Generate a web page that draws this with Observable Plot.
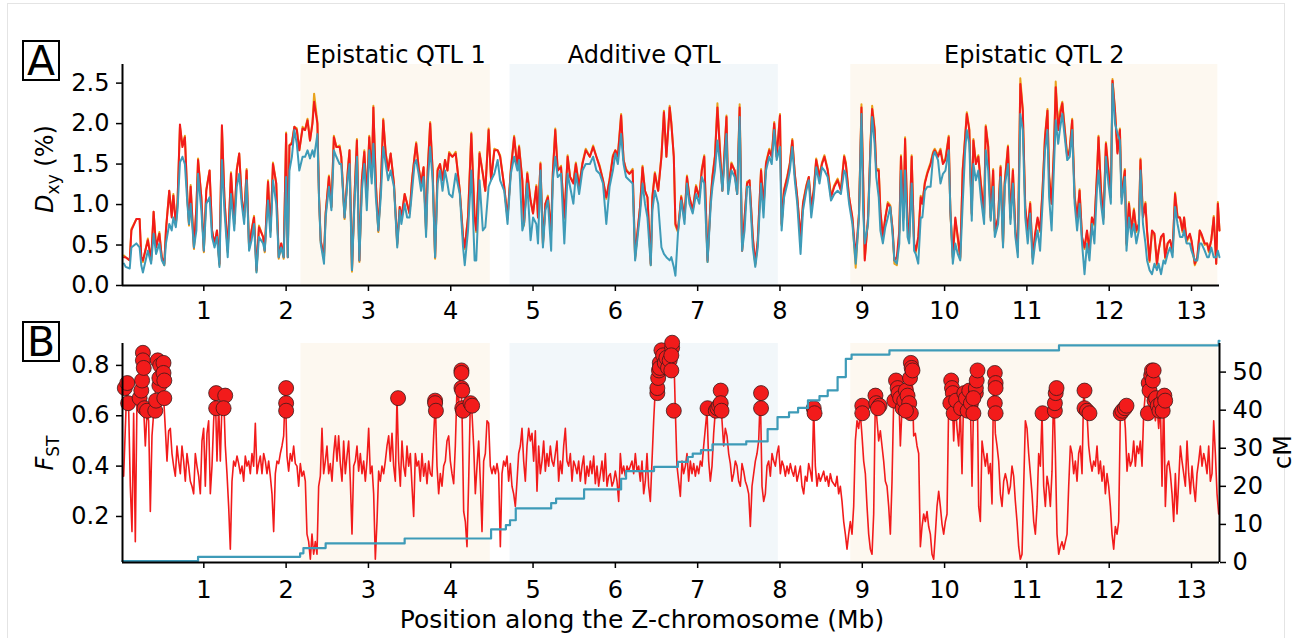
<!DOCTYPE html>
<html><head><meta charset="utf-8">
<script src="https://cdn.jsdelivr.net/npm/d3@7"></script>
<script src="https://cdn.jsdelivr.net/npm/@observablehq/plot@0.6"></script>
<style>
body{margin:0;background:#fff;font-family:"DejaVu Sans",sans-serif;color:#000;}
#fig{position:relative;width:1307px;height:638px;overflow:hidden;background:#fff;}
#frame{position:absolute;left:7px;top:3px;width:1276px;height:700px;border:1px solid #e4e4e4;}
.letter{position:absolute;left:22px;width:34px;height:37px;border:2px solid #000;font-size:41px;line-height:38px;text-align:center;}
.ylab{position:absolute;font-size:24px;line-height:28px;white-space:nowrap;transform:translate(-50%,-50%) rotate(-90deg);}
.sub{font-size:17px;position:relative;top:6px;}
#xlab{position:absolute;left:642px;top:620px;font-size:25px;line-height:28px;white-space:nowrap;transform:translate(-50%,-50%);}
.plot{position:absolute;left:0;}
</style></head>
<body><div id="fig">
<div id="frame"></div>
<div id="pa" class="plot" style="top:0"></div>
<div id="pb" class="plot" style="top:320px"></div>
<div class="letter" style="top:40px">A</div>
<div class="letter" style="top:321px">B</div>
<div class="ylab" style="left:46px;top:169px"><i>D</i><span class="sub">xy</span> (%)</div>
<div class="ylab" style="left:46px;top:453px"><i>F</i><span class="sub">ST</span></div>
<div class="ylab" style="left:1283px;top:452px">cM</div>
<div id="xlab">Position along the Z-chromosome (Mb)</div>
</div>
<script>
// ---------- data ----------
const regionNames = ["Epistatic QTL 1", "Additive QTL", "Epistatic QTL 2"];
const regionStart = [2.18, 4.72, 8.86];
const regionEnd = [4.48, 7.98, 13.32];
const regionKind = ["epistatic", "additive", "epistatic"];

const xTicks = [1,2,3,4,5,6,7,8,9,10,11,12,13];
const dxyTicks = [0, 0.5, 1.0, 1.5, 2.0, 2.5];
const fstTicks = [0.2, 0.4, 0.6, 0.8];
const cmTicks = [0, 10, 20, 30, 40, 50];

const dxyPos = [
0.03,0.05,0.10,0.12,0.18,0.22,0.24,0.26,0.32,0.36,0.39,0.42,0.46,0.49,0.52,0.54,0.58,0.61,0.63,0.66,
0.68,0.71,0.74,0.77,0.80,0.82,0.84,0.88,0.91,0.93,0.97,1.00,1.03,1.07,1.10,1.13,1.16,1.19,1.22,1.25,
1.29,1.33,1.37,1.40,1.43,1.46,1.49,1.52,1.55,1.58,1.61,1.64,1.67,1.72,1.74,1.78,1.81,1.84,1.88,1.91,
1.94,1.97,2.00,2.02,2.04,2.07,2.10,2.13,2.16,2.20,2.23,2.26,2.29,2.32,2.34,2.38,2.40,2.42,2.46,2.48,
2.52,2.55,2.58,2.61,2.65,2.67,2.71,2.75,2.77,2.80,2.83,2.86,2.89,2.92,2.95,2.98,3.01,3.04,3.06,3.09,
3.12,3.15,3.18,3.21,3.24,3.27,3.31,3.35,3.38,3.40,3.44,3.47,3.50,3.53,3.56,3.58,3.61,3.64,3.67,3.70,
3.72,3.75,3.78,3.81,3.84,3.87,3.90,3.93,3.96,
3.98,4.02,4.06,4.11,4.15,4.17,4.21,4.25,4.29,4.31,4.35,4.39,4.42,4.46,4.49,4.53,4.57,4.60,4.65,4.69,
4.73,4.77,4.81,4.83,4.87,4.89,4.93,4.97,5.00,5.04,5.06,5.09,5.12,5.15,5.18,5.22,5.24,5.27,5.30,5.34,
5.38,5.42,5.45,5.49,5.52,5.56,5.60,5.64,5.69,5.73,5.77,5.81,5.85,5.89,5.93,5.97,6.00,6.03,6.07,6.10,
6.13,6.17,6.21,6.24,6.27,6.30,6.33,6.36,6.39,6.43,6.45,6.48,6.52,6.56,6.59,6.62,6.66,6.68,6.71,6.73,
6.76,6.80,6.84,6.87,6.90,6.94,6.98,7.02,7.05,7.08,7.12,7.16,7.18,7.21,7.24,7.28,7.30,7.35,7.37,7.41,
7.45,7.48,7.51,7.54,7.57,7.60,7.63,7.67,7.70,7.73,7.77,7.80,7.83,7.87,7.90,7.93,7.96,8.00,8.02,8.05,
8.09,8.12,8.15,8.18,8.21,8.25,8.28,8.32,8.35,8.38,8.41,8.44,8.48,8.51,8.54,8.58,8.62,8.66,8.70,8.74,
8.78,8.80,8.84,8.88,8.92,8.96,
8.99,9.01,9.03,9.07,9.10,9.12,9.15,9.17,9.20,9.22,9.25,9.28,9.31,9.34,9.37,9.39,9.42,9.45,9.47,9.50,
9.52,9.55,9.57,9.60,9.63,9.65,9.68,9.71,9.73,9.76,9.79,9.83,9.86,9.88,9.92,9.95,9.98,10.01,10.05,10.07,
10.10,10.13,10.16,10.19,10.22,10.25,10.27,10.30,10.33,10.35,10.38,10.41,10.44,10.48,10.50,10.53,10.56,10.59,10.61,10.65,
10.68,10.71,10.73,10.77,10.80,10.83,10.86,10.89,10.92,10.95,10.98,11.01,11.04,11.07,11.10,11.13,11.16,11.19,11.22,11.25,
11.27,11.30,11.33,11.35,11.38,11.40,11.43,11.46,11.49,11.52,11.55,11.58,11.61,11.64,11.67,11.70,11.73,11.76,11.79,11.82,
11.85,11.87,11.90,11.93,11.96,11.99,12.02,12.04,12.07,12.10,12.13,12.15,12.19,12.21,12.24,12.27,12.30,12.33,12.36,12.38,
12.41,12.44,12.46,12.49,12.52,12.55,12.58,12.60,12.63,12.66,12.68,12.71,12.74,12.77,12.80,12.83,12.86,12.89,12.91,12.94,
12.98,13.00,13.04,13.07,13.10,13.12,13.16,13.19,13.21,13.24,13.27,13.30,13.32,13.34];

const dxyRed = [
0.35,0.35,0.31,0.68,0.82,0.82,0.35,0.31,0.56,0.31,0.91,0.47,0.64,0.35,0.27,0.68,1.17,0.84,1.11,0.76,
1.01,1.99,1.71,1.83,1.09,0.76,1.22,0.47,0.97,1.55,1.09,0.43,1.17,1.42,0.68,0.52,0.68,0.27,1.98,1.09,
0.43,1.38,0.76,1.42,1.63,1.09,0.84,1.42,0.47,0.68,0.84,0.19,0.72,0.60,0.43,1.28,0.68,1.50,1.26,0.35,
0.52,0.35,1.87,0.35,1.73,1.75,1.96,1.92,1.67,1.94,1.92,2.04,1.79,2.00,2.27,2.00,1.09,0.56,0.35,0.89,
1.34,0.97,1.83,1.71,1.71,1.59,0.84,1.42,1.67,0.19,1.09,1.79,0.31,1.30,1.65,1.09,1.83,1.34,2.20,1.26,
0.68,1.22,2.04,1.63,1.42,1.63,1.26,0.52,0.97,0.84,1.13,1.01,0.89,1.30,1.59,1.75,1.46,1.26,1.46,0.68,
1.42,2.00,1.42,0.35,1.42,1.50,1.30,1.55,1.42,
1.63,1.59,1.63,1.17,0.60,0.47,0.84,1.87,0.84,0.68,1.63,1.38,1.17,1.92,1.30,1.67,1.67,1.59,1.22,0.84,
1.42,1.83,1.46,1.71,1.30,0.76,1.38,1.05,0.89,1.22,0.84,1.50,0.52,1.01,1.09,0.68,1.38,1.92,1.42,1.46,
0.84,1.59,1.34,1.26,1.50,1.22,1.50,1.67,1.59,1.71,1.59,1.46,1.30,1.09,1.30,1.59,1.67,1.59,2.10,1.55,
1.42,1.38,1.42,0.35,0.68,0.97,1.46,1.17,1.09,0.27,1.09,1.38,1.17,1.59,2.14,1.59,2.20,2.00,1.59,0.76,
0.68,1.09,0.84,1.34,1.09,0.93,1.22,1.09,1.42,1.59,0.31,1.09,1.34,1.59,2.20,1.50,1.17,2.08,1.17,1.50,
1.42,1.13,2.20,0.43,0.84,1.26,1.30,0.60,0.27,0.56,1.42,0.97,1.50,1.67,1.59,2.00,1.59,2.10,0.76,1.17,
1.34,1.50,1.79,1.38,1.09,0.60,1.01,1.22,1.34,0.97,1.17,1.55,1.34,1.50,1.59,1.42,1.09,1.22,1.30,1.17,
1.59,1.50,1.09,0.84,0.35,0.89,
2.20,1.34,0.31,0.84,1.75,2.18,1.92,1.42,1.42,0.93,0.60,0.84,1.01,0.97,0.68,0.31,0.35,0.68,1.59,0.84,
1.81,0.76,0.60,1.59,0.52,0.43,0.60,1.09,1.01,1.26,1.38,1.50,1.63,1.67,1.59,1.67,1.50,1.55,1.83,0.93,
0.35,0.84,0.60,0.35,1.42,1.83,2.12,1.92,0.89,1.79,1.50,1.59,1.26,0.89,1.96,1.71,0.84,1.42,0.68,0.84,
1.46,0.52,1.26,1.71,0.84,1.42,0.68,0.43,2.49,2.16,0.97,0.68,1.01,0.35,0.64,0.84,0.68,1.17,1.83,2.16,
1.34,1.01,1.71,2.45,1.92,2.08,2.25,1.92,1.59,1.67,2.04,1.09,0.84,1.17,0.60,0.47,0.68,0.43,0.84,0.76,
1.34,1.83,1.17,0.84,1.75,1.42,1.09,2.53,2.16,1.63,1.92,1.09,1.42,0.52,1.01,0.68,0.93,0.68,0.76,1.55,
0.84,1.01,0.68,0.31,0.68,0.64,0.27,0.43,0.60,0.64,0.35,0.52,0.56,0.43,1.13,0.84,0.84,0.68,0.84,0.56,
0.64,0.56,0.27,0.35,0.68,0.64,0.52,0.52,0.43,0.56,0.84,0.27,1.01,0.68];

const dxyOrange = [
0.37,0.35,0.31,0.70,0.82,0.82,0.35,0.29,0.58,0.31,0.91,0.47,0.66,0.33,0.25,0.70,1.17,0.86,1.13,0.74,
1.03,1.96,1.73,1.85,1.09,0.74,1.24,0.45,0.97,1.57,1.09,0.41,1.19,1.42,0.68,0.50,0.68,0.25,1.96,1.09,
0.41,1.40,0.76,1.44,1.63,1.09,0.84,1.44,0.45,0.68,0.86,0.17,0.74,0.60,0.41,1.30,0.66,1.52,1.26,0.33,
0.52,0.33,1.89,0.35,1.73,1.77,1.96,1.94,1.67,1.96,1.92,2.06,1.79,2.02,2.37,2.02,1.09,0.54,0.33,0.89,
1.36,0.97,1.85,1.71,1.73,1.59,0.82,1.44,1.67,0.17,1.09,1.81,0.29,1.30,1.67,1.09,1.85,1.34,2.22,1.26,
0.66,1.22,2.06,1.63,1.44,1.63,1.26,0.50,0.97,0.82,1.13,1.01,0.89,1.32,1.59,1.77,1.46,1.28,1.46,0.66,
1.44,2.02,1.42,0.33,1.44,1.50,1.32,1.55,1.42,
1.65,1.59,1.65,1.17,0.58,0.45,0.86,1.89,0.84,0.66,1.65,1.38,1.17,1.94,1.30,1.69,1.67,1.61,1.22,0.82,
1.44,1.85,1.46,1.73,1.30,0.74,1.40,1.05,0.89,1.24,0.84,1.52,0.50,1.01,1.11,0.66,1.40,1.94,1.42,1.48,
0.82,1.61,1.34,1.28,1.52,1.22,1.52,1.69,1.59,1.73,1.59,1.48,1.30,1.07,1.32,1.61,1.67,1.61,2.12,1.55,
1.44,1.38,1.44,0.33,0.66,0.97,1.48,1.17,1.09,0.25,1.11,1.40,1.17,1.61,2.16,1.59,2.22,2.02,1.59,0.74,
0.66,1.11,0.82,1.36,1.09,0.93,1.24,1.09,1.44,1.61,0.29,1.11,1.36,1.61,2.25,1.52,1.17,2.10,1.17,1.52,
1.42,1.13,2.24,0.43,0.82,1.28,1.30,0.58,0.25,0.54,1.44,0.95,1.52,1.69,1.61,2.02,1.59,2.12,0.74,1.19,
1.36,1.52,1.81,1.38,1.09,0.58,1.03,1.24,1.34,0.95,1.19,1.57,1.36,1.52,1.61,1.44,1.11,1.24,1.32,1.19,
1.61,1.52,1.09,0.82,0.22,0.89,
2.24,1.36,0.33,0.82,1.77,2.22,1.94,1.44,1.44,0.91,0.58,0.84,1.03,0.99,0.66,0.27,0.25,0.66,1.61,0.82,
1.83,0.74,0.58,1.61,0.50,0.41,0.58,1.11,1.01,1.28,1.40,1.52,1.65,1.69,1.61,1.69,1.52,1.57,1.85,0.91,
0.33,0.82,0.58,0.33,1.44,1.85,2.14,1.94,0.87,1.81,1.52,1.61,1.28,0.87,1.98,1.73,0.82,1.44,0.66,0.82,
1.48,0.50,1.28,1.73,0.82,1.44,0.66,0.41,2.56,2.18,0.95,0.66,1.03,0.33,0.62,0.82,0.66,1.19,1.85,2.18,
1.36,1.01,1.73,2.52,1.94,2.15,2.27,1.94,1.61,1.69,2.06,1.11,0.82,1.19,0.58,0.45,0.66,0.41,0.84,0.74,
1.36,1.85,1.19,0.82,1.77,1.44,1.11,2.55,2.18,1.65,1.94,1.11,1.44,0.50,1.03,0.66,0.95,0.66,0.76,1.57,
0.86,1.03,0.66,0.29,0.66,0.62,0.25,0.43,0.60,0.62,0.33,0.52,0.56,0.41,1.15,0.86,0.84,0.66,0.84,0.54,
0.62,0.54,0.25,0.33,0.68,0.62,0.50,0.52,0.41,0.56,0.86,0.27,1.03,0.68];

const dxyBlue = [
0.27,0.23,0.21,0.47,0.52,0.47,0.25,0.16,0.43,0.27,0.64,0.39,0.52,0.31,0.25,0.52,0.76,0.68,0.84,0.72,
0.93,1.52,1.59,1.50,1.01,0.76,1.01,0.47,0.68,1.38,0.93,0.43,1.01,1.09,0.60,0.47,0.60,0.23,1.55,0.93,
0.35,1.13,0.68,1.22,1.38,1.01,0.76,1.30,0.43,0.56,0.76,0.16,0.60,0.52,0.43,1.05,0.60,1.30,1.01,0.35,
0.47,0.35,1.34,0.35,1.42,1.59,1.92,1.75,1.42,1.59,1.59,1.67,1.57,1.67,1.59,1.87,1.05,0.52,0.27,0.84,
1.22,0.93,1.67,1.59,1.50,1.50,0.84,1.34,1.50,0.19,1.01,1.59,0.31,1.17,1.50,0.93,1.67,1.26,1.75,1.09,
0.68,1.09,1.71,1.50,1.30,1.42,1.22,0.47,0.93,0.76,1.01,0.84,0.84,1.17,1.50,1.55,1.38,1.17,1.34,0.60,
1.26,1.71,1.30,0.35,1.26,1.42,1.17,1.42,1.26,
1.13,1.09,1.38,1.13,0.47,0.25,0.68,1.42,0.31,0.31,1.30,0.68,0.72,1.22,1.30,1.38,1.55,1.30,1.17,0.76,
1.38,1.59,1.42,1.55,0.68,0.76,1.26,0.56,0.84,0.76,0.52,1.42,0.47,0.93,1.05,0.43,1.30,1.59,1.34,1.38,
0.52,1.38,1.22,1.01,1.38,1.13,1.42,1.50,1.50,1.59,1.42,1.38,1.26,0.76,1.22,1.42,1.63,1.50,1.87,1.50,
1.34,1.30,1.26,0.31,0.60,0.89,1.26,1.01,0.84,0.25,0.93,1.17,1.01,0.47,0.39,0.35,0.31,0.35,0.23,0.12,
0.64,1.05,0.76,1.26,1.01,0.89,1.13,1.01,1.34,1.26,0.29,1.01,1.22,1.42,1.79,1.42,1.17,1.87,1.13,1.42,
1.34,1.13,2.08,0.43,0.68,1.22,1.22,0.47,0.23,0.47,1.26,0.84,1.42,1.59,1.50,1.92,1.55,1.71,0.68,1.09,
1.26,1.42,1.71,1.30,1.01,0.39,0.93,1.17,1.30,0.84,1.09,1.46,1.26,1.46,1.42,1.34,1.05,1.13,1.17,1.13,
1.42,1.38,1.01,0.76,0.27,0.84,
2.12,0.93,0.52,0.76,1.67,2.08,1.75,1.34,1.09,0.68,0.52,0.72,0.84,0.97,0.60,0.31,0.27,0.52,1.42,0.68,
1.42,0.60,0.52,1.26,0.43,0.39,0.27,0.84,0.84,1.17,1.22,1.22,1.59,1.65,1.55,1.26,1.38,1.42,1.67,0.93,
0.27,0.52,0.39,0.31,1.01,1.67,1.92,1.75,0.80,1.50,1.30,1.42,1.09,0.76,1.67,1.42,0.80,1.22,0.60,0.76,
1.34,0.47,1.22,1.50,0.76,1.26,0.60,0.35,2.12,1.92,0.84,0.52,0.89,0.27,0.52,0.68,0.43,1.01,1.67,1.92,
1.09,0.68,1.50,2.04,1.75,1.92,2.12,1.83,1.55,1.59,1.92,1.01,0.68,1.01,0.52,0.14,0.52,0.31,0.76,0.52,
1.17,1.42,1.01,0.76,1.59,1.26,1.01,2.49,2.00,1.88,1.79,1.01,1.34,0.43,0.84,0.60,0.76,0.52,0.68,1.42,
0.76,0.52,0.31,0.19,0.14,0.27,0.19,0.27,0.14,0.31,0.27,0.39,0.47,0.35,0.97,0.76,0.60,0.60,0.68,0.52,
0.52,0.43,0.31,0.31,0.52,0.52,0.43,0.35,0.35,0.47,0.35,0.35,0.43,0.35];

// F_ST sampled on a regular grid along the chromosome
const fstStart = 0.026, fstStep = 0.02025;
const fstValues = [
0.36,0.55,0.73,0.63,0.32,0.14,0.61,0.10,0.67,0.71,0.70,0.85,0.63,0.48,0.61,0.58,0.22,0.52,0.61,0.69,
0.82,0.74,0.78,0.81,0.67,0.55,0.42,0.54,0.55,0.45,0.40,0.36,0.48,0.42,0.37,0.48,0.42,0.34,0.45,0.40,
0.34,0.32,0.29,0.45,0.40,0.36,0.29,0.50,0.55,0.32,0.53,0.58,0.29,0.40,0.58,0.69,0.42,0.65,0.42,0.65,
0.68,0.48,0.37,0.24,0.07,0.34,0.42,0.40,0.44,0.41,0.37,0.40,0.34,0.44,0.40,0.42,0.37,0.45,0.40,0.57,
0.37,0.41,0.44,0.37,0.45,0.42,0.37,0.42,0.36,0.29,0.14,0.37,0.42,0.41,0.45,0.48,0.52,0.71,0.44,0.38,
0.45,0.42,0.48,0.41,0.40,0.32,0.41,0.36,0.38,0.34,0.13,0.10,0.03,0.13,0.05,0.10,0.05,0.32,0.36,0.55,
0.37,0.42,0.48,0.37,0.41,0.34,0.45,0.52,0.42,0.52,0.41,0.34,0.50,0.37,0.44,0.50,0.34,0.13,0.40,0.42,
0.48,0.38,0.45,0.37,0.42,0.34,0.42,0.55,0.37,0.40,0.29,0.03,0.18,0.38,0.34,0.40,0.37,0.42,0.48,0.52,
0.42,0.53,0.40,0.34,0.67,0.42,0.32,0.50,0.40,0.36,0.48,0.40,0.45,0.32,0.20,0.45,0.40,0.42,0.34,0.45,
0.36,0.41,0.33,0.42,0.37,0.36,0.52,0.66,0.40,0.29,0.37,0.32,0.40,0.42,0.50,0.52,
0.42,0.37,0.33,0.48,0.71,0.65,0.78,0.62,0.22,0.18,0.08,0.34,0.65,0.61,0.48,0.29,0.40,0.50,0.34,0.14,
0.42,0.45,0.58,0.57,0.40,0.37,0.40,0.37,0.41,0.37,0.08,0.37,0.42,0.40,0.44,0.34,0.41,0.32,0.29,0.24,
0.34,0.45,0.48,0.55,0.42,0.34,0.48,0.55,0.50,0.53,0.42,0.54,0.30,0.48,0.37,0.42,0.50,0.38,0.45,0.40,
0.48,0.42,0.40,0.45,0.50,0.34,0.42,0.37,0.48,0.55,0.42,0.40,0.45,0.34,0.42,0.40,0.37,0.42,0.34,0.40,
0.44,0.33,0.40,0.36,0.42,0.37,0.44,0.33,0.40,0.32,0.37,0.42,0.34,0.45,0.32,0.36,0.37,0.32,0.34,0.38,
0.34,0.26,0.45,0.37,0.40,0.36,0.40,0.38,0.40,0.42,0.37,0.45,0.38,0.40,0.34,0.42,0.29,0.34,0.45,0.32,
0.26,0.42,0.58,0.71,0.77,0.81,0.85,0.82,0.83,0.81,0.85,0.82,0.86,0.89,0.87,0.62,0.40,0.34,0.28,0.42,
0.37,0.40,0.45,0.34,0.42,0.37,0.41,0.36,0.40,0.37,0.42,0.40,0.48,0.55,0.62,0.42,0.34,0.40,0.53,0.62,
0.63,0.66,0.70,0.58,0.48,0.55,0.52,0.45,0.41,0.34,0.37,0.42,0.40,0.34,0.32,0.41,0.38,0.34,0.32,0.29,
0.16,0.32,0.37,0.42,0.45,0.50,0.69,0.32,0.26,0.29,0.40,0.42,0.36,0.45,0.42,0.40,0.45,0.48,0.37,0.42,
0.40,0.36,0.40,0.37,0.41,0.38,0.36,0.40,0.34,0.37,0.40,0.32,0.29,0.36,0.34,0.41,0.38,0.34,0.63,0.40,
0.32,0.37,0.34,0.36,0.38,0.34,0.36,0.32,0.37,0.34,0.33,0.32,0.36,0.29,0.32,0.26,0.18,0.13,0.07,0.13,
0.18,0.13,0.24,0.50,0.58,0.55,
0.61,0.52,0.42,0.37,0.24,0.13,0.07,0.05,0.21,0.67,0.58,0.50,0.54,0.48,0.42,0.34,0.32,0.24,0.13,0.34,
0.66,0.74,0.71,0.70,0.48,0.63,0.66,0.70,0.68,0.65,0.81,0.78,0.52,0.53,0.48,0.45,0.08,0.16,0.21,0.18,
0.22,0.16,0.13,0.05,0.03,0.13,0.24,0.30,0.24,0.17,0.13,0.18,0.21,0.65,0.74,0.69,0.50,0.66,0.55,0.48,
0.63,0.37,0.69,0.67,0.62,0.70,0.65,0.32,0.67,0.71,0.78,0.24,0.18,0.50,0.45,0.40,0.45,0.37,0.41,0.25,
0.77,0.53,0.48,0.42,0.29,0.24,0.34,0.37,0.34,0.29,0.32,0.40,0.36,0.26,0.18,0.08,0.03,0.05,0.32,0.58,
0.55,0.45,0.37,0.29,0.18,0.13,0.24,0.45,0.40,0.61,0.32,0.24,0.36,0.32,0.24,0.38,0.71,0.45,0.13,0.05,
0.08,0.10,0.07,0.10,0.13,0.32,0.48,0.45,0.37,0.42,0.34,0.45,0.48,0.37,0.70,0.63,0.61,0.48,0.42,0.38,
0.42,0.40,0.48,0.37,0.42,0.34,0.40,0.29,0.37,0.32,0.24,0.13,0.07,0.16,0.13,0.18,0.61,0.62,0.64,0.55,
0.38,0.45,0.40,0.42,0.50,0.40,0.48,0.45,0.50,0.40,0.61,0.69,0.74,0.77,0.79,0.77,0.65,0.58,0.64,0.55,
0.65,0.32,0.68,0.24,0.40,0.42,0.37,0.29,0.18,0.37,0.21,0.34,0.48,0.42,0.37,0.32,0.50,0.37,0.29,0.40,
0.32,0.26,0.37,0.42,0.48,0.40,0.45,0.42,0.37,0.48,0.34,0.37,0.58,0.45,0.29,0.21];

// F_ST outlier windows (red circles)
const outlierPos = [
0.04,0.07,0.08,0.22,0.24,0.25,0.26,0.26,0.27,0.28,0.31,0.41,0.42,0.44,0.46,0.46,0.47,0.51,0.51,0.52,0.52,
1.15,1.15,1.26,1.24,2.00,2.00,2.00,3.36,3.81,3.81,3.82,
4.13,4.13,4.13,4.14,4.14,4.15,4.24,4.26,
6.51,6.51,6.52,6.53,6.54,6.54,6.56,6.58,6.60,6.62,6.64,6.66,6.68,6.69,6.69,6.68,6.71,
7.12,7.22,7.24,7.26,7.28,7.28,7.29,7.77,7.77,8.41,8.42,
9.00,9.00,9.16,9.17,9.21,9.19,
9.39,9.41,9.43,9.44,9.46,9.49,9.51,9.53,9.55,9.57,9.59,9.53,9.58,9.59,9.60,9.61,
10.08,10.09,10.10,10.09,10.07,10.11,10.14,
10.20,10.24,10.26,10.28,10.30,10.32,10.35,10.38,10.38,10.39,10.40,10.35,
10.61,10.62,10.62,10.61,10.62,11.19,11.34,11.34,11.35,11.36,
11.70,11.70,11.73,11.76,12.14,12.16,12.19,12.21,
12.47,12.48,12.49,12.51,12.52,12.53,12.54,12.55,12.57,12.59,12.61,12.63,12.65,12.67,12.68];
const outlierFst = [
0.71,0.73,0.65,0.67,0.70,0.74,0.85,0.82,0.79,0.63,0.62,0.62,0.66,0.82,0.72,0.75,0.80,0.81,0.77,0.74,0.67,
0.69,0.63,0.68,0.63,0.71,0.65,0.62,0.67,0.66,0.65,0.62,
0.78,0.77,0.71,0.70,0.63,0.62,0.65,0.64,
0.69,0.71,0.75,0.78,0.81,0.79,0.86,0.84,0.81,0.83,0.79,0.82,0.78,0.87,0.89,0.84,0.62,
0.63,0.62,0.63,0.64,0.70,0.65,0.62,0.69,0.63,0.63,0.61,
0.64,0.61,0.68,0.65,0.64,0.63,
0.66,0.74,0.71,0.69,0.67,0.63,0.66,0.70,0.68,0.65,0.61,0.62,0.75,0.81,0.79,0.78,
0.74,0.71,0.69,0.65,0.65,0.61,0.66,
0.63,0.69,0.67,0.62,0.70,0.65,0.61,0.69,0.71,0.74,0.78,0.67,
0.77,0.73,0.71,0.65,0.61,0.61,0.62,0.65,0.69,0.71,
0.70,0.63,0.62,0.61,0.61,0.62,0.63,0.64,
0.61,0.73,0.70,0.76,0.78,0.74,0.78,0.66,0.67,0.64,0.62,0.65,0.62,0.68,0.66];

// genetic map (cM) — step function
const cmPos = [0.012,0.93,2.17,2.21,2.48,3.44,4.49,4.67,4.72,4.79,5.22,5.28,5.62,6.07,6.13,6.47,6.76,6.88,6.94,7.04,
7.18,7.59,7.85,7.97,8.11,8.22,8.34,8.48,8.58,8.70,8.80,8.87,9.33,11.39,13.33,13.34];
const cmValues = [0.4,1.5,2.4,3.8,5.0,6.3,8.7,9.8,11.1,14.2,15.6,16.8,19.2,22.0,24.0,25.1,26.4,27.7,28.6,29.5,
31.0,31.8,35.0,38.2,39.4,40.6,42.6,43.7,45.2,48.7,53.5,54.6,55.7,57.0,58.2,58.2];

// ---------- styling ----------
const RED = "#f21b1b", ORANGE = "#e8a21a", BLUE = "#3e9bb8";
const EPI_FILL = "#fdf8f0", ADD_FILL = "#f2f7fa";
const X_DOMAIN = [0.012, 13.34];
const DXY_DOMAIN = [0, 2.73];
const FST_DOMAIN = [0.0172, 0.887];
const FST_PER_CM = (0.7734 - 0.0172) / 50;   // twin-axis conversion
const cmToFst = c => FST_DOMAIN[0] + c * FST_PER_CM;

// ---------- tables ----------
const regions = regionNames.map((name, i) => ({name, start: regionStart[i], end: regionEnd[i], kind: regionKind[i]}));
const epi = regions.filter(d => d.kind === "epistatic");
const add = regions.filter(d => d.kind === "additive");
const nD = Math.min(dxyPos.length, dxyRed.length, dxyOrange.length, dxyBlue.length);
const dxyRows = d3.range(nD).map(i => ({pos: dxyPos[i], red: dxyRed[i], orange: dxyOrange[i], blue: dxyBlue[i]}));
const fstRows = fstValues.map((v, i) => ({pos: fstStart + i * fstStep, fst: v}));
const nO = Math.min(outlierPos.length, outlierFst.length);
const outRows = d3.range(nO).map(i => ({pos: outlierPos[i], fst: outlierFst[i]}));
const cmRows = cmPos.map((p, i) => ({pos: p, cm: cmValues[i]}));

const style = {fontFamily: '"DejaVu Sans", sans-serif', fontSize: "24px", color: "#000", background: "transparent", overflow: "visible"};

const plotA = Plot.plot({
  width: 1307, height: 320, marginTop: 64, marginBottom: 35, marginLeft: 122, marginRight: 88,
  x: {domain: X_DOMAIN}, y: {domain: DXY_DOMAIN},
  style,
  marks: [
    Plot.rect(epi, {x1: "start", x2: "end", y1: DXY_DOMAIN[0], y2: DXY_DOMAIN[1], fill: EPI_FILL}),
    Plot.rect(add, {x1: "start", x2: "end", y1: DXY_DOMAIN[0], y2: DXY_DOMAIN[1], fill: ADD_FILL}),
    Plot.line(dxyRows, {x: "pos", y: "orange", stroke: ORANGE, strokeWidth: 2}),
    Plot.line(dxyRows, {x: "pos", y: "red", stroke: RED, strokeWidth: 2}),
    Plot.line(dxyRows, {x: "pos", y: "blue", stroke: BLUE, strokeWidth: 2}),
    Plot.ruleX([X_DOMAIN[0]], {stroke: "#000", strokeWidth: 2}),
    Plot.ruleY([0], {stroke: "#000", strokeWidth: 2}),
    Plot.axisX({ticks: xTicks, tickSize: 6, tickPadding: 10, tickFormat: d => String(d), label: null, strokeWidth: 1.5}),
    Plot.axisY({ticks: dxyTicks, tickSize: 6, tickPadding: 7, tickFormat: d => d.toFixed(1), label: null, strokeWidth: 1.5}),
    Plot.text(regions, {x: d => (d.start + d.end) / 2, text: "name", frameAnchor: "top", dy: -19, fill: "#000"})
  ]
});
document.getElementById("pa").appendChild(plotA);

const plotB = Plot.plot({
  width: 1307, height: 318, marginTop: 23, marginBottom: 76, marginLeft: 122, marginRight: 88,
  x: {domain: X_DOMAIN}, y: {domain: FST_DOMAIN},
  style,
  marks: [
    Plot.rect(epi, {x1: "start", x2: "end", y1: FST_DOMAIN[0], y2: FST_DOMAIN[1], fill: EPI_FILL}),
    Plot.rect(add, {x1: "start", x2: "end", y1: FST_DOMAIN[0], y2: FST_DOMAIN[1], fill: ADD_FILL}),
    Plot.line(fstRows, {x: "pos", y: "fst", stroke: RED, strokeWidth: 1.6}),
    Plot.dot(outRows, {x: "pos", y: "fst", r: 7.5, fill: RED, stroke: "#3a1a1a", strokeWidth: 0.8}),
    Plot.line(cmRows, {x: "pos", y: d => cmToFst(d.cm), curve: "step-after", stroke: BLUE, strokeWidth: 2.2}),
    Plot.ruleX([X_DOMAIN[0]], {stroke: "#000", strokeWidth: 2}),
    Plot.ruleX([X_DOMAIN[1]], {stroke: "#000", strokeWidth: 2}),
    Plot.ruleY([FST_DOMAIN[0]], {stroke: "#000", strokeWidth: 2}),
    Plot.axisX({ticks: xTicks, tickSize: 6, tickPadding: 12, tickFormat: d => String(d), label: null, strokeWidth: 1.5}),
    Plot.axisY({ticks: fstTicks, tickSize: 6, tickPadding: 7, tickFormat: d => d.toFixed(1), label: null, strokeWidth: 1.5}),
    Plot.axisY({anchor: "right", ticks: cmTicks.map(cmToFst), tickSize: 6, tickPadding: 7,
      tickFormat: v => String(Math.round((v - FST_DOMAIN[0]) / FST_PER_CM)), label: null, strokeWidth: 1.5})
  ]
});
document.getElementById("pb").appendChild(plotB);
</script>
</body></html>
